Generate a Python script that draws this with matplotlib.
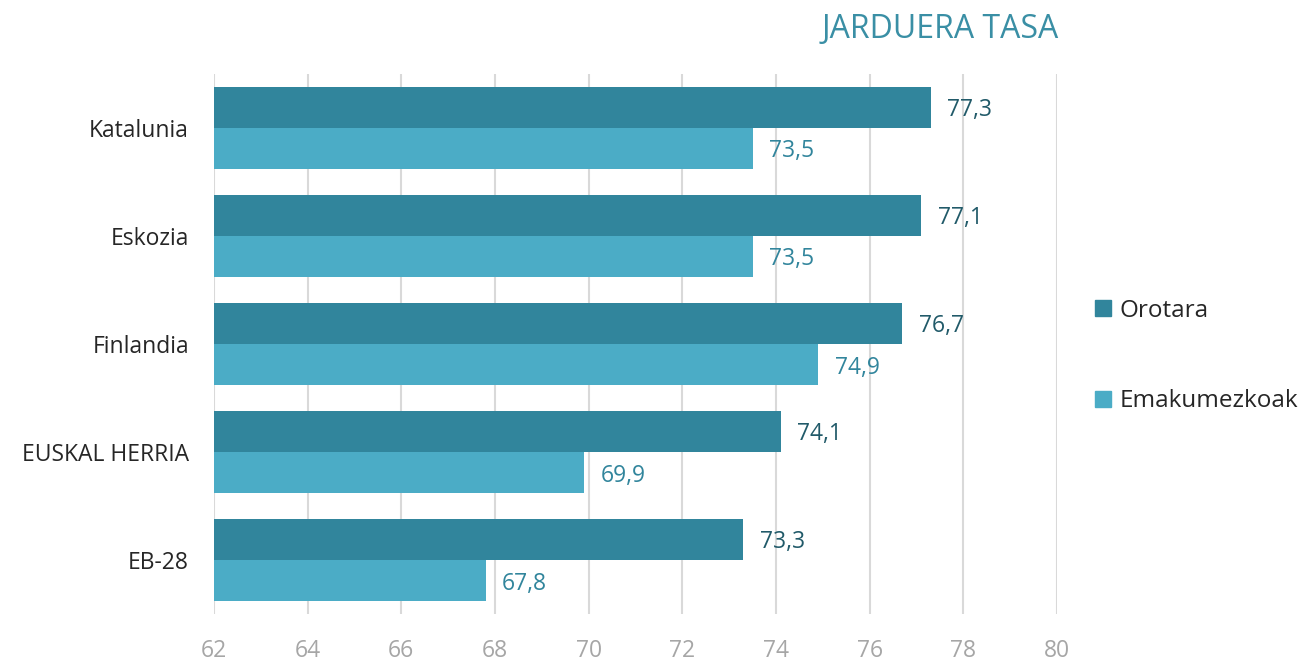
from matplotlib import pyplot as plt
from matplotlib.patches import Patch
import numpy as np

plt.rcParams['font.family'] = ['Open Sans', 'DejaVu Sans']

#Data
countries = ['Katalunia', 'Eskozia', 'Finlandia', 'EUSKAL HERRIA', 'EB-28']
orotara = [77.3, 77.1, 76.7, 74.1, 73.3]
emakumezkoak = [73.5, 73.5, 74.9, 69.9, 67.8]
xticks = [62, 64, 66, 68, 70, 72, 74, 76, 78, 80]

darkColor = '#31859C'
lightColor = '#4BACC6'

fig = plt.figure(figsize=(13.07, 6.61), dpi=100)
ax = fig.add_axes([0.1637, 0.0711, 0.645, 0.817])

y = np.arange(len(countries))
h = 0.38
ax.barh(y - h / 2, orotara, height=h, color=darkColor, left=0)
ax.barh(y + h / 2, emakumezkoak, height=h, color=lightColor, left=0)

#Data labels with comma decimals
for yi, v in zip(y, orotara):
    ax.text(v + 0.35, yi - h / 2, '{:.1f}'.format(v).replace('.', ','), va='center_baseline', ha='left',
            fontsize=16.5, color='#215A69')
for yi, v in zip(y, emakumezkoak):
    ax.text(v + 0.35, yi + h / 2, '{:.1f}'.format(v).replace('.', ','), va='center_baseline', ha='left',
            fontsize=16.5, color=darkColor)

ax.set_xlim(62, 80)
ax.set_ylim(len(countries) - 0.5, -0.5)
ax.set_xticks(xticks)
ax.set_xticklabels([str(t) for t in xticks], fontsize=16.5, color='#A6A6A6')
ax.set_yticks(y)
ax.set_yticklabels(countries, fontsize=16.5, color='#262626')
ax.tick_params(axis='y', length=0, pad=18)
ax.tick_params(axis='x', length=0, pad=18)
ax.grid(axis='x', color='#D9D9D9', linewidth=1.5)
ax.set_axisbelow(True)
for s in ax.spines.values():
    s.set_visible(False)

fig.text(0.719, 0.955, 'JARDUERA TASA', fontsize=23, color='#3A8FA5', ha='center', va='center')

handles = [Patch(color=darkColor), Patch(color=lightColor)]
fig.legend(handles, ['Orotara', 'Emakumezkoak'], loc='center left', bbox_to_anchor=(0.821, 0.4614),
           frameon=False, fontsize=17.5, handlelength=0.65, handleheight=0.65, handletextpad=0.35,
           labelspacing=2.75, labelcolor='#262626')

fig.savefig('out.png', dpi=100)
